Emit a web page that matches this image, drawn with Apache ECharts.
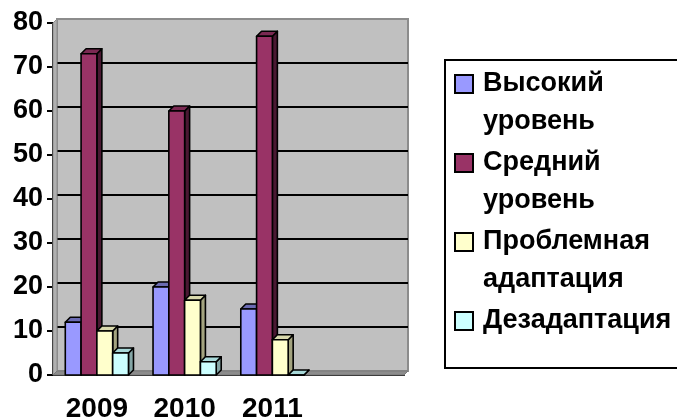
<!DOCTYPE html>
<html>
<head>
<meta charset="utf-8">
<script src="https://cdn.jsdelivr.net/npm/echarts@6/dist/echarts.min.js"></script>
<style>
  html, body { margin: 0; padding: 0; background: #fff; }
  #chart { width: 677px; height: 418px; }
</style>
</head>
<body>
<div id="chart"></div>
<script>
var categories = ['2009', '2010', '2011', ''];
var seriesNames = ['Высокий уровень', 'Средний уровень', 'Проблемная адаптация', 'Дезадаптация'];
var highLevel = [12, 20, 15];
var midLevel = [73, 60, 77];
var problemAdapt = [10, 17, 8];
var disadapt = [5, 3, 0];
var yTicks = { min: 0, max: 80, interval: 10 };

var colors = ['#9999ff', '#993366', '#ffffcc', '#ccffff'];
var sideColors = ['#5c5c99', '#4a1832', '#a3a37f', '#85a6a6'];
var topColors = ['#6b6bb3', '#7a2952', '#d9d9ad', '#a8d9d9'];
var font = 'Liberation Sans, Arial, sans-serif';

// legend labels are wrapped; a blank first line keeps the icon on line one
var wrapped = {
    'Высокий уровень': '\nВысокий\nуровень',
    'Средний уровень': '\nСредний\nуровень',
    'Проблемная адаптация': '\nПроблемная\nадаптация',
    'Дезадаптация': '\nДезадаптация\n'
};

function bar3d(idx) {
    return function (params, api) {
        var top = api.coord([api.value(0), api.value(1)]);
        var base = api.coord([api.value(0), 0]);
        var bw = api.size([1, 0])[0] * 0.18;
        var d = 5;
        var x = top[0] + (idx - 1.5) * bw - bw / 2;
        var y = top[1];
        var yb = base[1];
        var line = { stroke: '#000', lineWidth: 1.6, lineJoin: 'round' };
        return {
            type: 'group',
            children: [
                { type: 'polygon', shape: { points: [[x + bw, y], [x + bw + d, y - d], [x + bw + d, yb - d], [x + bw, yb]] },
                  style: Object.assign({ fill: sideColors[idx] }, line) },
                { type: 'polygon', shape: { points: [[x, y], [x + d, y - d], [x + bw + d, y - d], [x + bw, y]] },
                  style: Object.assign({ fill: topColors[idx] }, line) },
                { type: 'rect', shape: { x: x, y: y, width: bw, height: yb - y },
                  style: Object.assign({ fill: colors[idx] }, line) }
            ]
        };
    };
}

function toPairs(arr) {
    return arr.map(function (v, i) { return [i, v]; });
}

var seriesData = [highLevel, midLevel, problemAdapt, disadapt];

var myChart = echarts.init(document.getElementById('chart'));

var option = {
    backgroundColor: '#fff',
    animation: false,
    grid: [
        { left: 53, right: 273, top: 23, bottom: 43, outerBoundsMode: 'none' },
        { left: 57, right: 269, top: 19, bottom: 47, outerBoundsMode: 'none', show: true,
          backgroundColor: '#c0c0c0', borderColor: '#8c8c8c', borderWidth: 2 }
    ],
    xAxis: [
        {
            type: 'category', gridIndex: 0, data: categories,
            axisLine: { lineStyle: { color: '#000', width: 2 } },
            axisTick: { length: 6, lineStyle: { color: '#000', width: 2 } },
            axisLabel: { color: '#000', fontFamily: font, fontWeight: 'bold', fontSize: 28, margin: 20 }
        },
        { type: 'category', gridIndex: 1, data: categories, show: false }
    ],
    yAxis: [
        {
            type: 'value', gridIndex: 0, min: yTicks.min, max: yTicks.max, interval: yTicks.interval,
            axisLine: { show: true, lineStyle: { color: '#000', width: 2 } },
            axisTick: { show: true, length: 6, lineStyle: { color: '#000', width: 2 } },
            axisLabel: { color: '#000', fontFamily: font, fontWeight: 'bold', fontSize: 27, margin: 10 },
            splitLine: { show: false }
        },
        {
            type: 'value', gridIndex: 1, min: yTicks.min, max: yTicks.max, interval: yTicks.interval,
            axisLine: { show: false }, axisTick: { show: false }, axisLabel: { show: false },
            splitLine: { show: true, showMinLine: false, showMaxLine: false, lineStyle: { color: '#000', width: 2 } }
        }
    ],
    graphic: [
        { type: 'polygon', z: 1, shape: { points: [[53, 375], [53, 23], [57, 19], [57, 371]] },
          style: { fill: '#b0b0b0', stroke: '#8c8c8c', lineWidth: 1 } },
        { type: 'polygon', z: 1, shape: { points: [[53, 375], [404, 375], [408, 371], [57, 371]] },
          style: { fill: '#8c8c8c', stroke: '#7a7a7a', lineWidth: 1 } },
        { type: 'rect', z: 1, shape: { x: 445, y: 60, width: 260, height: 308 },
          style: { fill: 'none', stroke: '#000', lineWidth: 2 } }
    ],
    legend: {
        orient: 'vertical',
        left: 454,
        top: 27,
        padding: 0,
        itemGap: -35,
        itemWidth: 18,
        itemHeight: 18,
        icon: 'rect',
        data: seriesNames.map(function (n, i) {
            return { name: n, itemStyle: { color: colors[i], borderColor: '#000', borderWidth: 2 } };
        }),
        formatter: function (name) { return wrapped[name]; },
        textStyle: { color: '#000', fontFamily: font, fontWeight: 'bold', fontSize: 27, lineHeight: 38, padding: [0, 0, 0, 5] }
    },
    series: seriesData.map(function (arr, i) {
        return {
            name: seriesNames[i],
            type: 'custom',
            xAxisIndex: 0,
            yAxisIndex: 0,
            z: 3,
            itemStyle: { color: colors[i] },
            renderItem: bar3d(i),
            data: toPairs(arr)
        };
    })
};

myChart.setOption(option);
</script>
</body>
</html>
